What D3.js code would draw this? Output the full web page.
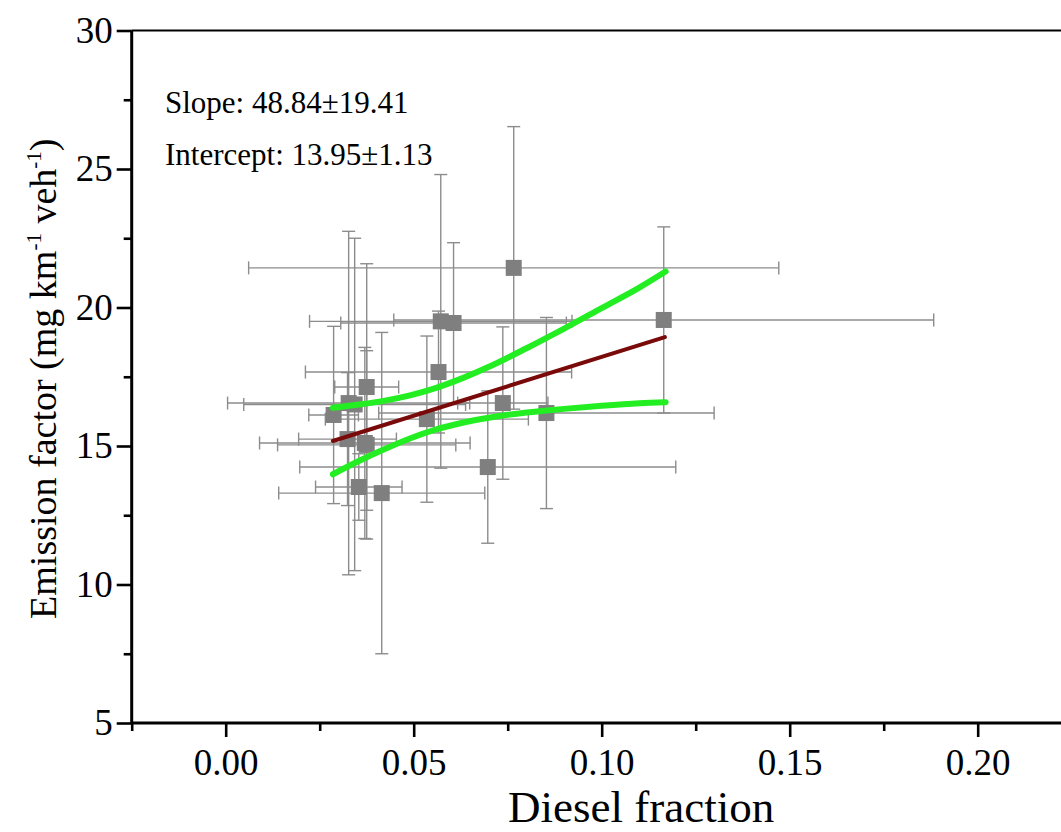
<!DOCTYPE html>
<html>
<head>
<meta charset="utf-8">
<script src="https://cdn.jsdelivr.net/npm/d3@7/dist/d3.min.js"></script>
<style>
  html, body { margin: 0; padding: 0; background: #ffffff; }
  svg { display: block; }
  text { font-family: "Liberation Serif", "Times New Roman", serif; fill: #000; }
</style>
</head>
<body>
<svg id="chart" width="1061" height="832"></svg>
<script>
// ---- data ----
const pointX    = [0.0766, 0.1165, 0.0572, 0.0606, 0.0566, 0.0375, 0.0327, 0.0343, 0.0287, 0.0737, 0.0535, 0.0853, 0.0324, 0.0370, 0.0375, 0.0697, 0.0354, 0.0415];
const pointY    = [21.43, 19.55, 19.50, 19.44, 17.67, 17.13, 16.55, 16.50, 16.12, 16.55, 15.97, 16.19, 15.25, 15.11, 15.04, 14.24, 13.52, 13.30];
const pointXErr = [0.0705, 0.0718, 0.0349, 0.0300, 0.0354, 0.0085, 0.0322, 0.0295, 0.0066, 0.0120, 0.0270, 0.0446, 0.0130, 0.0280, 0.0237, 0.0500, 0.0115, 0.0274];
const pointYErr = [5.10, 3.36, 5.30, 2.90, 2.20, 4.45, 6.20, 6.00, 3.20, 2.75, 3.00, 3.45, 2.40, 3.45, 3.40, 2.75, 1.20, 5.80];

const fitX = [0.0285, 0.1168];
const fitY = [15.18, 18.93];

const bandX     = [0.0285, 0.035, 0.042, 0.049, 0.056, 0.063, 0.070, 0.080, 0.090, 0.100, 0.110, 0.117];
const bandUpper = [16.38, 16.49, 16.63, 16.83, 17.10, 17.45, 17.86, 18.53, 19.24, 19.98, 20.72, 21.30];
const bandLower = [13.98, 14.43, 14.87, 15.27, 15.60, 15.84, 16.02, 16.21, 16.34, 16.45, 16.54, 16.58];

const xMajorTicks = [0.00, 0.05, 0.10, 0.15, 0.20];
const xMinorTicks = [-0.025, 0.025, 0.075, 0.125, 0.175];
const yMajorTicks = [5, 10, 15, 20, 25, 30];
const yMinorTicks = [7.5, 12.5, 17.5, 22.5, 27.5];

const statLines = ["Slope: 48.84\u00b119.41", "Intercept: 13.95\u00b11.13"];
const xTitle = "Diesel fraction";

// ---- chart ----
const svg = d3.select("#chart");
const x = d3.scaleLinear().domain([-0.025, 0.225]).range([131.7, 131.7 + 0.25 * 3760]);
const y = d3.scaleLinear().domain([5, 30]).range([723, 30.5]);

const gray = "#8c8c8c";
const pts = pointX.map((v, i) => ({x: v, y: pointY[i], ex: pointXErr[i], ey: pointYErr[i]}));
const cap = 6.5;

const eb = svg.append("g").attr("stroke", gray).attr("stroke-width", 1.4).attr("fill", "none");
pts.forEach(p => {
  eb.append("line").attr("x1", x(p.x - p.ex)).attr("x2", x(p.x + p.ex)).attr("y1", y(p.y)).attr("y2", y(p.y));
  eb.append("line").attr("x1", x(p.x - p.ex)).attr("x2", x(p.x - p.ex)).attr("y1", y(p.y) - cap).attr("y2", y(p.y) + cap);
  eb.append("line").attr("x1", x(p.x + p.ex)).attr("x2", x(p.x + p.ex)).attr("y1", y(p.y) - cap).attr("y2", y(p.y) + cap);
  eb.append("line").attr("x1", x(p.x)).attr("x2", x(p.x)).attr("y1", y(p.y - p.ey)).attr("y2", y(p.y + p.ey));
  eb.append("line").attr("x1", x(p.x) - cap).attr("x2", x(p.x) + cap).attr("y1", y(p.y - p.ey)).attr("y2", y(p.y - p.ey));
  eb.append("line").attr("x1", x(p.x) - cap).attr("x2", x(p.x) + cap).attr("y1", y(p.y + p.ey)).attr("y2", y(p.y + p.ey));
});

// markers
const ms = 16;
svg.append("g").selectAll("rect").data(pts).join("rect")
  .attr("x", d => x(d.x) - ms / 2).attr("y", d => y(d.y) - ms / 2)
  .attr("width", ms).attr("height", ms).attr("fill", "#7f7f7f");

// confidence bands
const band = d3.line().x(d => x(d[0])).y(d => y(d[1])).curve(d3.curveMonotoneX);
[bandUpper, bandLower].forEach(arr => {
  svg.append("path").datum(bandX.map((v, i) => [v, arr[i]])).attr("d", band)
    .attr("fill", "none").attr("stroke", "#22ee22").attr("stroke-width", 6).attr("stroke-linecap", "round");
});
// fit line
svg.append("path").datum(fitX.map((v, i) => [v, fitY[i]])).attr("d", d3.line().x(d => x(d[0])).y(d => y(d[1])))
  .attr("fill", "none").attr("stroke", "#7a0a0a").attr("stroke-width", 4).attr("stroke-linecap", "round");

// top frame
svg.append("line").attr("x1", x(-0.025)).attr("x2", 1061).attr("y1", y(30)).attr("y2", y(30))
  .attr("stroke", "#000").attr("stroke-width", 2.2);

// axes
const xAxis = svg.append("g").attr("transform", `translate(0,${y(5)})`);
xAxis.call(d3.axisBottom(x).tickValues(xMajorTicks).tickFormat(d3.format(".2f")).tickSize(14));
const xMinor = svg.append("g").attr("transform", `translate(0,${y(5)})`);
xMinor.call(d3.axisBottom(x).tickValues(xMinorTicks).tickFormat("").tickSize(8));
xMinor.select(".domain").remove();

const yAxis = svg.append("g").attr("transform", `translate(${x(-0.025)},0)`);
yAxis.call(d3.axisLeft(y).tickValues(yMajorTicks).tickFormat(d3.format("d")).tickSize(15).tickPadding(4));
const yMinor = svg.append("g").attr("transform", `translate(${x(-0.025)},0)`);
yMinor.call(d3.axisLeft(y).tickValues(yMinorTicks).tickFormat("").tickSize(8));
yMinor.select(".domain").remove();

svg.selectAll(".domain").attr("stroke", "#000").attr("stroke-width", 3);
svg.selectAll(".tick line").attr("stroke", "#000").attr("stroke-width", 2.6);
xAxis.selectAll(".domain").attr("d", `M${x(-0.025)},0H1061`);
yAxis.selectAll(".domain").attr("d", `M0,${y(5)}V${y(30)}`);

xAxis.selectAll(".tick text").attr("font-family", "Liberation Serif").attr("font-size", 37)
  .attr("fill", "#000").attr("y", 52).attr("dy", 0);
yAxis.selectAll(".tick text").attr("font-family", "Liberation Serif").attr("font-size", 37)
  .attr("fill", "#000");

// titles
svg.append("text").attr("x", x(0.1105)).attr("y", 822).attr("text-anchor", "middle")
  .attr("font-size", 45).text(xTitle);

const yt = svg.append("text").attr("transform", `translate(56,${(y(5) + y(30)) / 2 + 2}) rotate(-90)`)
  .attr("text-anchor", "middle").attr("font-size", 38);
yt.append("tspan").text("Emission factor (mg km");
yt.append("tspan").attr("font-size", 21).attr("dy", -15).text("-1");
yt.append("tspan").attr("dy", 15).text(" veh");
yt.append("tspan").attr("font-size", 21).attr("dy", -15).text("-1");
yt.append("tspan").attr("dy", 15).text(")");

// stats text
svg.append("g").selectAll("text").data(statLines).join("text")
  .attr("x", 165).attr("y", (d, i) => 113 + i * 52)
  .attr("font-size", 31).text(d => d);
</script>
</body>
</html>
